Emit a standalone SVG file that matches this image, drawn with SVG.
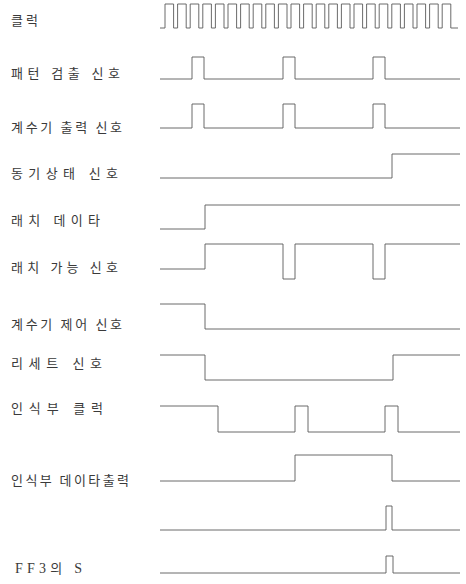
<svg xmlns="http://www.w3.org/2000/svg" width="466" height="584" viewBox="0 0 466 584">
<style>
.lbl{font-family:"Noto Sans CJK KR","Noto Sans",sans-serif;font-size:13px;fill:#3a3a3a;}
.lat{font-family:"Liberation Serif","Noto Sans CJK KR",serif;font-size:14px;fill:#3a3a3a;}
.w{fill:none;stroke:#5a5a5a;stroke-width:0.9;}
</style>
<rect width="466" height="584" fill="#fff"/>
<g id="clock">
<text class="lbl" x="11" y="24.5" textLength="27" lengthAdjust="spacing">클럭</text>
<path class="w" d="M160,28 H165 v-24 h8.6 v24 h4 v-24 h8.6 v24 h4 v-24 h8.6 v24 h4 v-24 h8.6 v24 h4 v-24 h8.6 v24 h4 v-24 h8.6 v24 h4 v-24 h8.6 v24 h4 v-24 h8.6 v24 h4 v-24 h8.6 v24 h4 v-24 h8.6 v24 h4 v-24 h8.6 v24 h4 v-24 h8.6 v24 h4 v-24 h8.6 v24 h4 v-24 h8.6 v24 h4 v-24 h8.6 v24 h4 v-24 h8.6 v24 h4 v-24 h8.6 v24 h4 v-24 h8.6 v24 h4 v-24 h8.6 v24 h4 v-24 h8.6 v24 h4 v-24 h8.6 v24 h4 v-24 h8.6 v24 h4 v-24 h8.6 v24 H458"/>
</g>
<g id="pattern">
<text class="lbl" x="11" y="77.5" textLength="109" lengthAdjust="spacing">패턴 검출 신호</text>
<path class="w" d="M160,79 H192 V57 H204 V79 H283 V57 H295 V79 H373 V57 H385 V79 H460"/>
</g>
<g id="counter-out">
<text class="lbl" x="11" y="131.5" textLength="111" lengthAdjust="spacing">계수기 출력 신호</text>
<path class="w" d="M160,128 H192 V104 H204 V128 H283 V104 H295 V128 H373 V104 H385 V128 H460"/>
</g>
<g id="sync">
<text class="lbl" x="11" y="177.5" textLength="107" lengthAdjust="spacing">동기상태 신호</text>
<path class="w" d="M160,178 H392 V154 H460"/>
</g>
<g id="latch-data">
<text class="lbl" x="11" y="224.5" textLength="89" lengthAdjust="spacing">래치 데이타</text>
<path class="w" d="M160,229 H205 V205 H460"/>
</g>
<g id="latch-enable">
<text class="lbl" x="11" y="271.5" textLength="107" lengthAdjust="spacing">래치 가능 신호</text>
<path class="w" d="M160,269 H205 V244 H283 V279 H295 V244 H373 V279 H385 V244 H460"/>
</g>
<g id="counter-ctrl">
<text class="lbl" x="11" y="328.5" textLength="111" lengthAdjust="spacing">계수기 제어 신호</text>
<path class="w" d="M160,304 H205 V329 H460"/>
</g>
<g id="reset">
<text class="lbl" x="11" y="367.5" textLength="91" lengthAdjust="spacing">리세트 신호</text>
<path class="w" d="M160,355 H205 V380 H393 V355 H460"/>
</g>
<g id="recog-clock">
<text class="lbl" x="11" y="412.5" textLength="92" lengthAdjust="spacing">인식부 클럭</text>
<path class="w" d="M160,406 H218 V432 H295 V406 H308 V432 H385 V406 H398 V432 H460"/>
</g>
<g id="recog-data">
<text class="lbl" x="11" y="484.5" textLength="118" lengthAdjust="spacing">인식부 데이타출력</text>
<path class="w" d="M160,481 H295 V455 H392 V481 H460"/>
</g>
<g id="pulse-line">
<path class="w" d="M160,530 H386 V506 H392 V530 H460"/>
</g>
<g id="ff3-s">
<text class="lat" x="15" y="573" textLength="67" lengthAdjust="spacing">FF3<tspan font-family="Noto Sans CJK KR, sans-serif" font-size="13">의</tspan> S</text>
<path class="w" d="M160,573 H386 V556 H393 V573 H460"/>
</g>
<g id="connectors"/>
</svg>
